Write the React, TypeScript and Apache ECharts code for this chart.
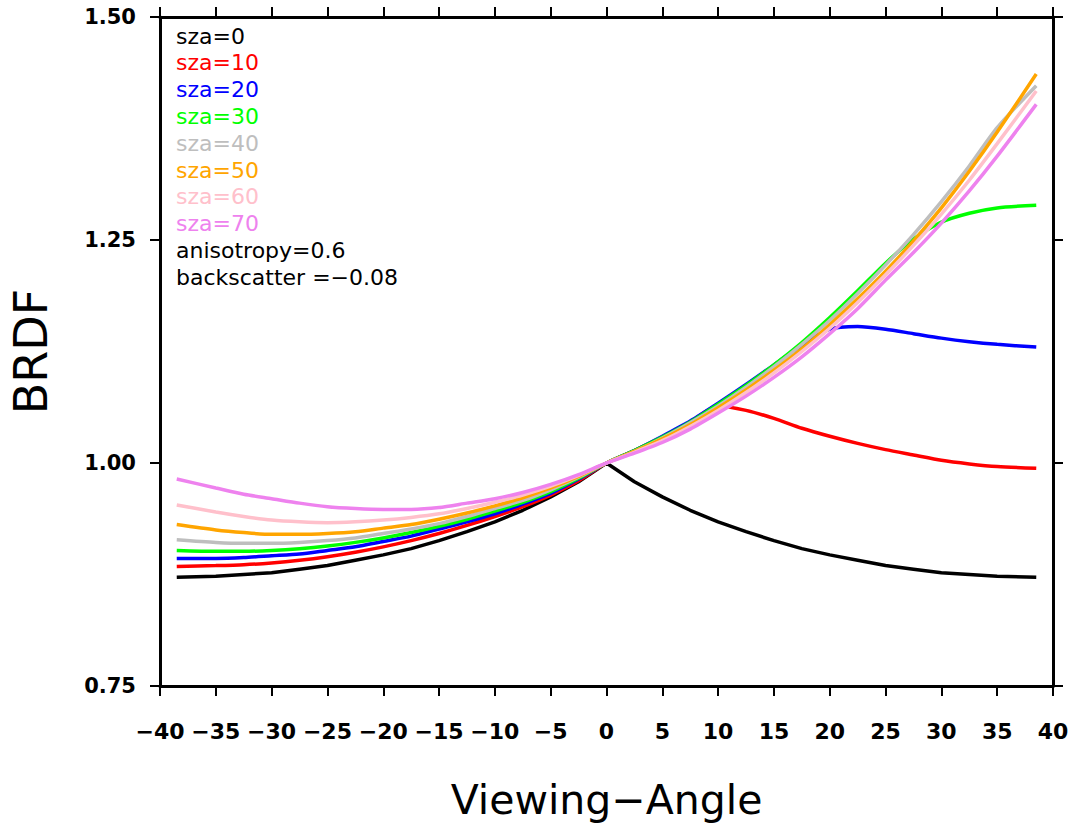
import React, { useEffect, useRef } from "react";
import * as echarts from "echarts";

// Viewing angles (degrees) at which the BRDF curves are sampled
const ANGLES = [
  -38.5, -35, -32.5, -30, -27.5, -25, -22.5, -20, -17.5, -15, -12.5, -10, -7.5, -5, -2.5, 0,
  2.5, 5, 7.5, 10, 12.5, 15, 17.5, 20, 22.5, 25, 27.5, 30, 32.5, 35, 38.5,
];

// BRDF values per solar zenith angle
const SZA0 = [
  0.872, 0.873, 0.875, 0.877, 0.881, 0.885, 0.891, 0.897, 0.904, 0.913, 0.923, 0.934, 0.947, 0.962, 0.979, 1.0,
  0.979, 0.962, 0.947, 0.934, 0.923, 0.913, 0.904, 0.897, 0.891, 0.885, 0.881, 0.877, 0.875, 0.873, 0.872,
];
const SZA10 = [
  0.884, 0.885, 0.886, 0.888, 0.891, 0.895, 0.900, 0.906, 0.913, 0.921, 0.930, 0.940, 0.951, 0.964, 0.980, 1.0,
  1.014, 1.029, 1.046, 1.064, 1.059, 1.050, 1.039, 1.030, 1.022, 1.015, 1.009, 1.003, 0.999, 0.996, 0.994,
];
const SZA20 = [
  0.893, 0.893, 0.894, 0.896, 0.898, 0.902, 0.906, 0.912, 0.918, 0.926, 0.934, 0.943, 0.954, 0.966, 0.982, 1.0,
  1.014, 1.030, 1.047, 1.067, 1.088, 1.110, 1.132, 1.150, 1.153, 1.150, 1.145, 1.140, 1.136, 1.133, 1.130,
];
const SZA30 = [
  0.902, 0.901, 0.901, 0.902, 0.904, 0.907, 0.911, 0.916, 0.922, 0.929, 0.937, 0.946, 0.956, 0.968, 0.983, 1.0,
  1.014, 1.029, 1.046, 1.066, 1.087, 1.110, 1.135, 1.163, 1.193, 1.224, 1.251, 1.270, 1.280, 1.286, 1.289,
];
const SZA40 = [
  0.914, 0.911, 0.910, 0.910, 0.911, 0.913, 0.916, 0.921, 0.926, 0.932, 0.940, 0.949, 0.958, 0.970, 0.984, 1.0,
  1.013, 1.028, 1.045, 1.064, 1.085, 1.108, 1.133, 1.160, 1.190, 1.222, 1.256, 1.293, 1.333, 1.376, 1.423,
];
const SZA50 = [
  0.931, 0.925, 0.922, 0.920, 0.920, 0.921, 0.923, 0.927, 0.931, 0.937, 0.944, 0.952, 0.961, 0.972, 0.985, 1.0,
  1.013, 1.027, 1.043, 1.062, 1.082, 1.104, 1.128, 1.155, 1.184, 1.215, 1.249, 1.286, 1.327, 1.371, 1.436,
];
const SZA60 = [
  0.953, 0.945, 0.940, 0.936, 0.934, 0.933, 0.934, 0.936, 0.939, 0.943, 0.949, 0.956, 0.964, 0.974, 0.986, 1.0,
  1.012, 1.025, 1.041, 1.059, 1.079, 1.101, 1.125, 1.151, 1.180, 1.211, 1.244, 1.279, 1.317, 1.358, 1.417,
];
const SZA70 = [
  0.982, 0.972, 0.965, 0.960, 0.955, 0.951, 0.949, 0.948, 0.948, 0.950, 0.955, 0.960, 0.967, 0.976, 0.987, 1.0,
  1.011, 1.023, 1.038, 1.056, 1.075, 1.096, 1.119, 1.145, 1.173, 1.205, 1.236, 1.269, 1.305, 1.344, 1.402,
];

const SERIES_NAMES = ["sza=0", "sza=10", "sza=20", "sza=30", "sza=40", "sza=50", "sza=60", "sza=70"];
const SERIES_VALUES = [SZA0, SZA10, SZA20, SZA30, SZA40, SZA50, SZA60, SZA70];
const SERIES_COLORS = ["#000000", "#ff0000", "#0000ff", "#00ff00", "#bebebe", "#ffa500", "#ffc0cb", "#ee82ee"];
const NOTES = ["anisotropy=0.6", "backscatter =\u22120.08"];

const X_MIN = -40;
const X_MAX = 40;
const Y_MIN = 0.75;
const Y_MAX = 1.5;

const FONT = "'DejaVu Sans', Verdana, sans-serif";
const minus = (s: string) => s.replace("-", "\u2212");

export default function App() {
  const ref = useRef<HTMLDivElement>(null);

  useEffect(() => {
    if (!ref.current) return;
    const chart = echarts.init(ref.current, undefined, { renderer: "svg" });

    const frameAxis = {
      axisLine: { show: true, onZero: false, lineStyle: { color: "#000", width: 3 } },
      axisTick: { show: true, inside: false, length: 10, lineStyle: { color: "#000", width: 2 } },
      splitLine: { show: false },
    };

    const legendTexts = [
      ...SERIES_NAMES.map((name, i) => ({ text: name, color: SERIES_COLORS[i] })),
      ...NOTES.map((text) => ({ text, color: "#000" })),
    ];

    chart.setOption({
      animation: false,
      backgroundColor: "#ffffff",
      grid: { left: 153, right: 19, top: 17, bottom: 133, containLabel: false },
      xAxis: [
        {
          type: "value",
          min: X_MIN,
          max: X_MAX,
          interval: 5,
          position: "bottom",
          ...frameAxis,
          axisLabel: {
            show: true,
            margin: 34,
            fontSize: 22,
            fontWeight: "bold",
            color: "#000",
            fontFamily: FONT,
            formatter: (v: number) => minus(String(v)),
          },
          name: "Viewing\u2212Angle",
          nameLocation: "middle",
          nameGap: 93,
          nameTextStyle: { fontSize: 41, color: "#000", fontFamily: FONT },
        },
        {
          type: "value",
          min: X_MIN,
          max: X_MAX,
          interval: 5,
          position: "top",
          ...frameAxis,
          axisLabel: { show: false },
        },
      ],
      yAxis: [
        {
          type: "value",
          min: Y_MIN,
          max: Y_MAX,
          interval: 0.25,
          position: "left",
          ...frameAxis,
          axisLabel: {
            show: true,
            margin: 24,
            fontSize: 21,
            fontWeight: "bold",
            color: "#000",
            fontFamily: FONT,
            formatter: (v: number) => v.toFixed(2),
          },
          name: "BRDF",
          nameLocation: "middle",
          nameGap: 106,
          nameTextStyle: { fontSize: 46, color: "#000", fontFamily: FONT },
        },
        {
          type: "value",
          min: Y_MIN,
          max: Y_MAX,
          interval: 0.25,
          position: "right",
          ...frameAxis,
          axisLabel: { show: false },
        },
      ],
      series: SERIES_VALUES.map((vals, i) => ({
        name: SERIES_NAMES[i],
        type: "line",
        xAxisIndex: 0,
        yAxisIndex: 0,
        data: ANGLES.map((a, j) => [a, vals[j]]),
        showSymbol: false,
        // the sza=0 curve keeps its sharp peak at nadir
        smooth: i === 0 ? false : 0.25,
        lineStyle: { color: SERIES_COLORS[i], width: 3.5 },
        itemStyle: { color: SERIES_COLORS[i] },
        z: 2 + i,
      })),
      graphic: legendTexts.map((t, i) => ({
        type: "text",
        left: 176,
        top: 25 + i * 26.8,
        style: { text: t.text, fill: t.color, fontSize: 22, fontFamily: FONT },
        z: 20,
      })),
    });

    return () => chart.dispose();
  }, []);

  return (
    <div
      ref={ref}
      style={{ position: "absolute", left: 0, top: 0, width: 1072, height: 825, background: "#fff" }}
    />
  );
}
